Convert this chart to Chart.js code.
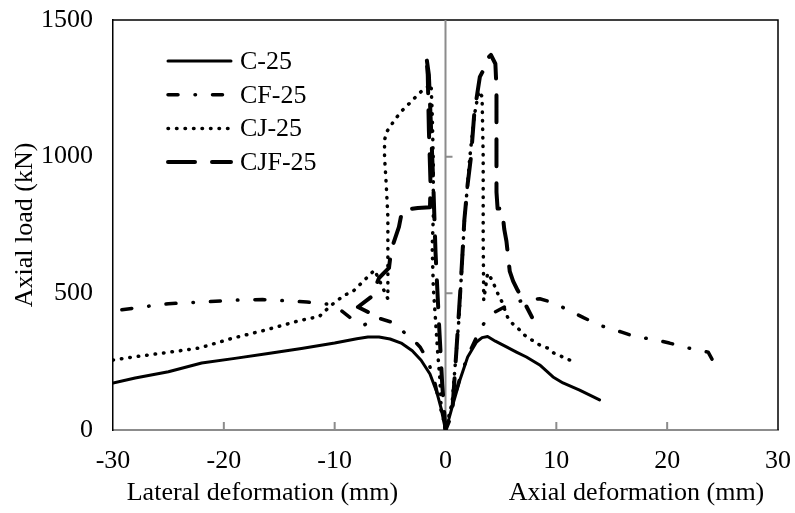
<!DOCTYPE html>
<html>
<head>
<meta charset="utf-8">
<script src="https://cdn.jsdelivr.net/npm/chart.js@4.4.0/dist/chart.umd.min.js"></script>
<style>
  html, body { margin: 0; padding: 0; background: #fff; }
</style>
</head>
<body>
<canvas id="myChart" width="795" height="513"></canvas>
<script>
// series: left half = lateral deformation (negative), right half = axial deformation
const seriesNames = ["C-25", "CF-25", "CJ-25", "CJF-25"];

const c25X = [-30, -28, -25, -22, -19, -16, -13, -10, -8, -7, -6, -5, -4, -3, -2.2, -1.4, -0.8, -0.4, -0.1, 0,
  0.3, 0.6, 1.3, 2, 2.8, 3.3, 3.8, 4.5, 5.5, 6.4, 7.3, 8.5, 9.7, 10.6, 12.1, 13.9];
const c25Y = [172, 190, 213, 245, 262, 280, 298, 318, 334, 340, 340, 333, 318, 290, 255, 205, 140, 80, 20, 0,
  40, 84, 183, 267, 322, 338, 342, 325, 304, 285, 267, 238, 194, 172, 146, 110];

const cf25X = [-29.2, -27, -25, -22, -19, -16.5, -14, -12.5, -10.5, -9.5, -8.4, -7.3, -6.1, -4.9, -4, -3.1, -2.3, -1.6, -1, -0.5, 0,
  0.6, 1.3, 2, 2.8, 3.6, 4.4, 6, 7.5, 8.5, 9.8, 11, 12.5, 14, 15.9, 17.2, 18.6, 20.2, 22.3, 23.7, 24.3, 24.6];
const cf25Y = [440, 452, 462, 468, 475, 477, 472, 468, 460, 440, 405, 385, 410, 395, 366, 337, 304, 256, 180, 90, 0,
  90, 190, 270, 340, 400, 430, 465, 478, 480, 465, 440, 410, 382, 358, 340, 333, 318, 296, 285, 240, 216];

const cj25X = [-30, -28.2, -25.2, -22.2, -19.2, -16.2, -13.2, -11.4, -10.3, -9.1, -8.4, -7.5, -6.4, -5.2, -5.2, -5.2, -5.35, -5.5, -5.5, -5.3, -4.9, -4.4, -4, -3.4, -2.8, -2.2, -1.3, -1.2, -1.1, -1.1, -1.2, -1.1, -0.9, -0.7, -0.5, -0.4, 0,
  0.6, 1.2, 1.7, 2.2, 2.6, 3, 3.3, 3.4, 3.4, 3.45, 3.8, 4.2, 4.7, 5.1, 5.6, 6, 6.7, 7.1, 7.8, 8.5, 9.2, 9.8, 11.2];
const cj25Y = [256, 267, 283, 300, 336, 366, 400, 415, 457, 494, 505, 541, 585, 480, 650, 780, 900, 1000, 1061, 1091, 1116, 1144, 1165, 1189, 1214, 1238, 1265, 1160, 980, 780, 670, 523, 402, 281, 183, 84, 0,
  100, 400, 760, 1000, 1150, 1240, 1220, 1000, 700, 475, 574, 549, 501, 468, 413, 391, 366, 348, 329, 311, 300, 281, 256];

const cjf25X = [-7, -7.9, -6.7, -6, -5.1, -4.9, -4.2, -3.9, -2.5, -1.4, -1.35, -1.5, -1.6, -1.75, -1.5, -1.3, -1.1, -0.9, -0.6, -0.3, 0,
  0.6, 1, 1.4, 1.7, 2, 2.3, 2.6, 3.1, 3.4, 3.8, 4.1, 4.5, 4.6, 4.6, 4.6, 4.7, 5.1, 5.3, 5.5, 5.8, 6.1, 6.5, 7.2, 7.8];
const cjf25Y = [432, 450, 487, 556, 593, 659, 743, 805, 812, 815, 900, 1100, 1300, 1372, 1300, 1100, 900, 650, 400, 170, 0,
  60, 300, 550, 768, 900, 1000, 1160, 1292, 1315, 1360, 1372, 1340, 1250, 950, 870, 810, 810, 735, 690, 580, 545, 512, 460, 413];

const xTickMarks = [-20, -10, 10, 20];
const yTickMarks = [500, 1000];

const serif = '"Liberation Serif", "Times New Roman", serif';

function pts(xs, ys) {
  return xs.map((x, i) => ({ x: x, y: ys[i] }));
}

// frame lines that Excel draws: black plot border, grey axis through x = 0, inner ticks
const framePlugin = {
  id: "frame",
  beforeDatasetsDraw(chart) {
    const { ctx, chartArea: a, scales } = chart;
    const x = scales.x, y = scales.y;
    ctx.save();
    ctx.strokeStyle = "#000";
    ctx.lineWidth = 1.5;
    ctx.beginPath();
    ctx.moveTo(a.left, a.top);
    ctx.lineTo(a.right, a.top);
    ctx.lineTo(a.right, a.bottom);
    ctx.stroke();

    ctx.strokeStyle = "#8c8c8c";
    ctx.lineWidth = 2;
    const x0 = x.getPixelForValue(0);
    ctx.beginPath();
    ctx.moveTo(x0, a.top);
    ctx.lineTo(x0, a.bottom);
    yTickMarks.forEach(v => {
      const py = y.getPixelForValue(v);
      ctx.moveTo(x0, py);
      ctx.lineTo(x0 + 7, py);
    });
    xTickMarks.forEach(v => {
      const px = x.getPixelForValue(v);
      ctx.moveTo(px, a.bottom);
      ctx.lineTo(px, a.bottom - 8);
    });
    ctx.stroke();
    ctx.restore();
  }
};

// legend inside the plot, top left
const legendPlugin = {
  id: "innerLegend",
  afterDatasetsDraw(chart) {
    const { ctx, chartArea: a } = chart;
    ctx.save();
    chart.data.datasets.forEach((ds, i) => {
      const ly = a.top + 41 + i * 33.7;
      const lx = a.left + 55;
      ctx.beginPath();
      ctx.setLineDash(ds.borderDash || []);
      ctx.lineCap = ds.borderCapStyle || "butt";
      ctx.lineWidth = ds.borderWidth;
      ctx.strokeStyle = ds.borderColor;
      ctx.moveTo(lx, ly);
      ctx.lineTo(lx + 63, ly);
      ctx.stroke();
      ctx.setLineDash([]);
      ctx.fillStyle = "#000";
      ctx.font = "26px " + serif;
      ctx.textBaseline = "middle";
      ctx.fillText(ds.label, lx + 72, ly + 1);
    });
    ctx.restore();
  }
};

const ctx = document.getElementById("myChart");

new Chart(ctx, {
  type: "scatter",
  data: {
    datasets: [
      {
        label: seriesNames[0],
        data: pts(c25X, c25Y),
        borderColor: "#000",
        borderWidth: 3,
        borderCapStyle: "round"
      },
      {
        label: seriesNames[1],
        data: pts(cf25X, cf25Y),
        borderColor: "#000",
        borderWidth: 3.5,
        borderDash: [10, 17, 0.5, 17],
        borderCapStyle: "round"
      },
      {
        label: seriesNames[2],
        data: pts(cj25X, cj25Y),
        borderColor: "#000",
        borderWidth: 3.5,
        borderDash: [0.5, 8],
        borderCapStyle: "round"
      },
      {
        label: seriesNames[3],
        data: pts(cjf25X, cjf25Y),
        borderColor: "#000",
        borderWidth: 4,
        borderDash: [27, 17],
        borderCapStyle: "round"
      }
    ]
  },
  options: {
    responsive: false,
    animation: false,
    showLine: true,
    layout: { padding: { top: 20, right: 17, left: 0, bottom: 0 } },
    elements: {
      point: { radius: 0, hoverRadius: 0 },
      line: { tension: 0, borderJoinStyle: "round" }
    },
    plugins: {
      legend: { display: false },
      tooltip: { enabled: false }
    },
    scales: {
      x: {
        type: "linear",
        min: -30,
        max: 30,
        afterFit: s => {
          s.height = 83;
          s.paddingLeft = 0;
          s.paddingRight = 0;
        },
        ticks: { stepSize: 10, color: "#000", font: { family: serif, size: 26 }, padding: 16, maxRotation: 0 },
        grid: { display: false, drawTicks: false },
        border: { display: true, color: "#8c8c8c", width: 2 },
        title: {
          display: true,
          text: "Lateral deformation (mm)" + "\u0020".repeat(17) + "Axial deformation (mm)",
          color: "#000",
          font: { family: serif, size: 26 },
          padding: { top: 0, bottom: 4 }
        }
      },
      y: {
        min: 0,
        max: 1500,
        afterFit: s => {
          s.width = 113;
          s.paddingTop = 0;
          s.paddingBottom = 0;
        },
        ticks: {
          stepSize: 500,
          color: "#000",
          font: { family: serif, size: 26 },
          padding: 20,
          callback: v => String(v)
        },
        grid: { display: false, drawTicks: false },
        border: { display: true, color: "#000", width: 1.5 },
        title: {
          display: true,
          text: "Axial load (kN)",
          color: "#000",
          font: { family: serif, size: 26 },
          padding: { top: 10, bottom: 0 }
        }
      }
    }
  },
  plugins: [framePlugin, legendPlugin]
});
</script>
</body>
</html>
